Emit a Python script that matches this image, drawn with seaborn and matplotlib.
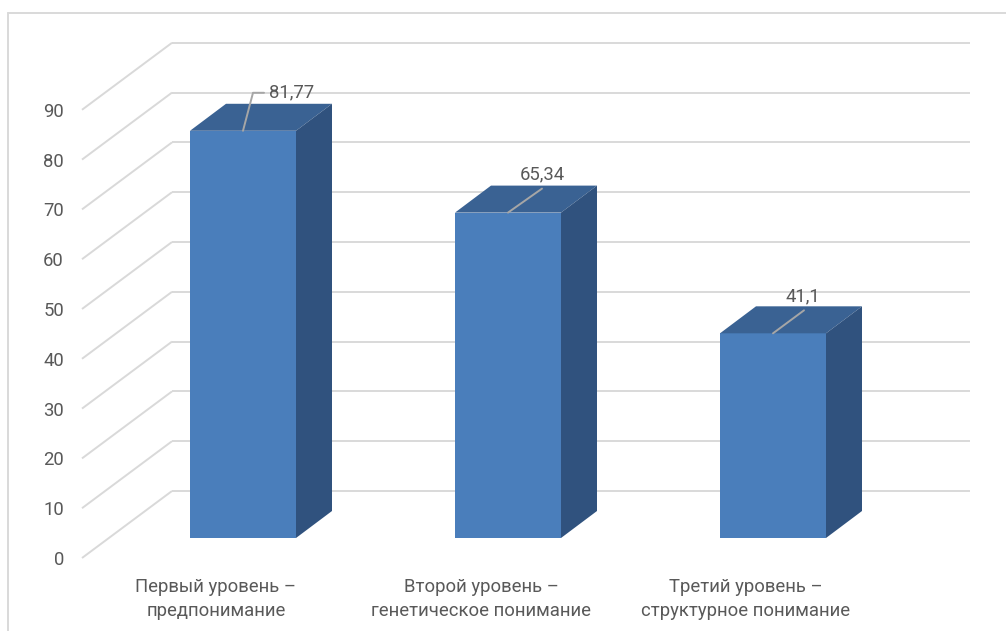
import numpy as np
import pandas as pd
import matplotlib
matplotlib.use("Agg")
import matplotlib.pyplot as plt
import seaborn as sns
from matplotlib.patches import Polygon
from matplotlib.lines import Line2D

# ---------------- data ----------------
categories = ["Первый уровень –\nпредпонимание",
              "Второй уровень –\nгенетическое понимание",
              "Третий уровень –\nструктурное понимание"]
values = [81.77, 65.34, 41.1]
value_labels = ["81,77", "65,34", "41,1"]
y_ticks = [0, 10, 20, 30, 40, 50, 60, 70, 80, 90]

# ---------------- style ----------------
FRONT = "#4A7EBB"
TOP = "#3A6293"
SIDE = "#30527E"
GRID = "#D9D9D9"
TEXT = "#595959"
LEADER = "#A6A6A6"

sns.set_theme(style="white")
plt.rcParams['font.family'] = ['Roboto', 'DejaVu Sans']
FS = 13.3

W, H = 1006, 631
X0, SX = 243.0, 265.0     # pixel x of first category, pixels per category
Y0, SY = 538.0, 4.98      # pixel y of value 0 (bar front plane), pixels per unit


def dx(p):
    return p / SX


def dy(p):
    return p / SY


fig = plt.figure(figsize=(W / 100, H / 100), dpi=100)
ax = fig.add_axes([0, 0, 1, 1])

df = pd.DataFrame({"cat": categories, "val": values})
sns.barplot(data=df, x="cat", y="val", order=categories, width=0.4,
            color=FRONT, saturation=1, linewidth=0, errorbar=None,
            ax=ax, zorder=4)

ax.set_xlim(-X0 / SX, (W - X0) / SX)
ax.set_ylim((Y0 - H) / SY, Y0 / SY)
ax.axis("off")

# back wall + floor diagonals
xb_left = dx(172 - X0)
xb_right = dx(970 - X0)
xf = dx(82 - X0)
back_off = dy(47)
front_off = -dy(20)
for v in y_ticks:
    ax.plot([xb_left, xb_right], [v + back_off, v + back_off],
            color=GRID, lw=1.4, zorder=1, solid_capstyle="butt")
    ax.plot([xf, xb_left], [v + front_off, v + back_off],
            color=GRID, lw=1.4, zorder=1, solid_capstyle="butt")
    ax.text(dx(64 - X0), v - dy(22), str(v), ha="right", va="center",
            fontsize=FS, color=TEXT)

# 3D bar top and side faces
bw = 0.4
ddx, ddy = dx(36), dy(27)
for i, v in enumerate(values):
    xl, xr = i - bw / 2, i + bw / 2
    top = Polygon([(xl, v), (xr, v), (xr + ddx, v + ddy), (xl + ddx, v + ddy)],
                  closed=True, facecolor=TOP, edgecolor="none", zorder=5)
    side = Polygon([(xr, 0), (xr + ddx, ddy), (xr + ddx, v + ddy), (xr, v)],
                   closed=True, facecolor=SIDE, edgecolor="none", zorder=5)
    ax.add_patch(top)
    ax.add_patch(side)

# category labels
for i, c in enumerate(categories):
    ax.text(i - dx(27), -dy(61), c, ha="center", va="center",
            fontsize=FS, color=TEXT, linespacing=1.5)

# data labels with leader lines (pixel offsets)
leader_pts = [[(0, 0), (10, 38), (21, 38)],
              [(0, 0), (34, 24)],
              [(0, 0), (31, 23)]]
text_pos = [(26, 38, "left"), (34, 38, "center"), (30, 37, "center")]
for i, v in enumerate(values):
    xs = [i + dx(p[0]) for p in leader_pts[i]]
    ys = [v + dy(p[1]) for p in leader_pts[i]]
    ax.plot(xs, ys, color=LEADER, lw=1.4, zorder=6)
    tx, ty, ha = text_pos[i]
    ax.text(i + dx(tx), v + dy(ty), value_labels[i], ha=ha, va="center",
            fontsize=FS, color=TEXT, zorder=7)

# chart border (top and left)
fig.add_artist(Line2D([8 / W, 1.0], [1 - 13 / H, 1 - 13 / H],
                      color=GRID, lw=1.4, transform=fig.transFigure))
fig.add_artist(Line2D([8 / W, 8 / W], [0.0, 1 - 13 / H],
                      color=GRID, lw=1.4, transform=fig.transFigure))

fig.savefig("out.png", dpi=100, facecolor="white")
